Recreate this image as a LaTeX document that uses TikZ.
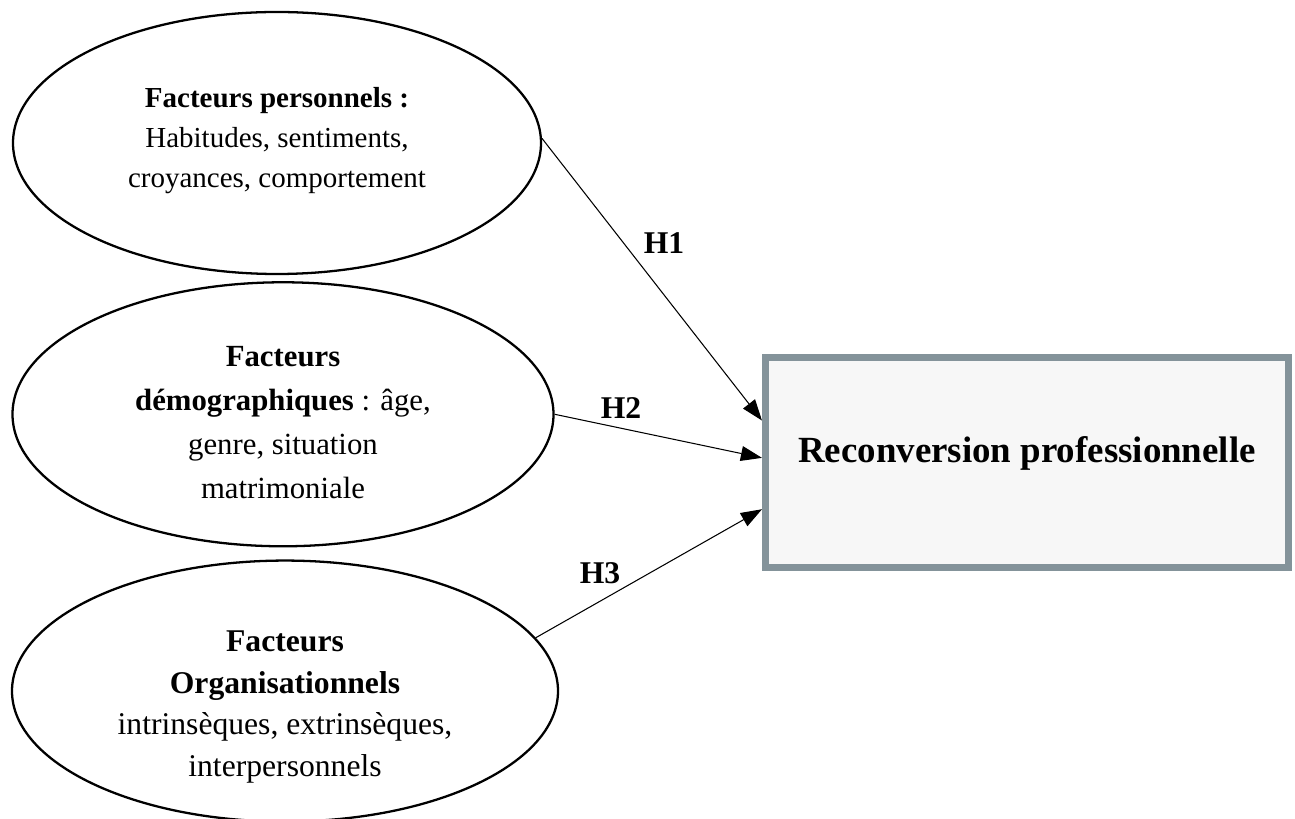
\documentclass[tikz,border=0pt]{standalone}
\usepackage{fontspec}
\setmainfont{Liberation Serif}
\usetikzlibrary{positioning,shapes.geometric,arrows.meta}
\definecolor{cadre}{HTML}{84939A}
\definecolor{fond}{HTML}{F7F7F7}

\begin{document}
\begin{tikzpicture}[
		node distance=0.12cm and 1.5cm,
		facteur/.style={draw,ellipse,line width=1.3pt,inner sep=0pt},
		texte/.style={align=center,inner sep=0pt},
		hyp/.style={font=\fontsize{18}{20}\selectfont\bfseries},
		fleche/.style={-{Triangle[length=12pt,width=8.5pt]},line width=0.6pt}
		]
		\useasboundingbox (0,0) rectangle (25.9,-16.38);
		\node[facteur,minimum width=10.56cm,minimum height=5.24cm] (perso) at (5.54,-2.86) {};
		\node[facteur,minimum width=10.82cm,minimum height=5.28cm,below=of perso,xshift=0.12cm] (demo) {};
		\node[facteur,minimum width=10.92cm,minimum height=5.22cm,below=0.24cm of demo,xshift=0.04cm] (orga) {};
		\node[texte,font=\fontsize{16.5}{22.7}\selectfont] (perso-txt) at ([yshift=0.05cm]perso.center)
		{\textbf{Facteurs personnels :}\\ Habitudes, sentiments,\\ croyances, comportement};
		\node[texte,font=\fontsize{17.5}{25}\selectfont] (demo-txt) at ([yshift=-0.17cm]demo.center)
		{\textbf{Facteurs}\\ \textbf{démographiques} : âge,\\ genre, situation\\ matrimoniale};
		\node[texte,font=\fontsize{18}{23.7}\selectfont] (orga-txt) at ([yshift=-0.32cm]orga.center)
		{\textbf{Facteurs}\\ \textbf{Organisationnels}\\ intrinsèques, extrinsèques,\\ interpersonnels};
		\node[draw=cadre,fill=fond,line width=4pt,minimum width=10.46cm,minimum height=4.2cm,
			text height=0.5cm,text depth=0.5cm,font=\fontsize{21}{25}\selectfont\bfseries] (reconv) at (20.54,-9.25)
		{Reconversion professionnelle};
		\path [fleche]
		(perso.1) edge (reconv.171)
		(demo.east) edge (reconv.179)
		(orga.12) edge (reconv.190);
		\node[hyp] (h1) at (13.28,-4.86) {H1};
		\node[hyp] (h2) at (12.42,-8.16) {H2};
		\node[hyp] (h3) at (12.0,-11.46) {H3};
	\end{tikzpicture}
\end{document}
